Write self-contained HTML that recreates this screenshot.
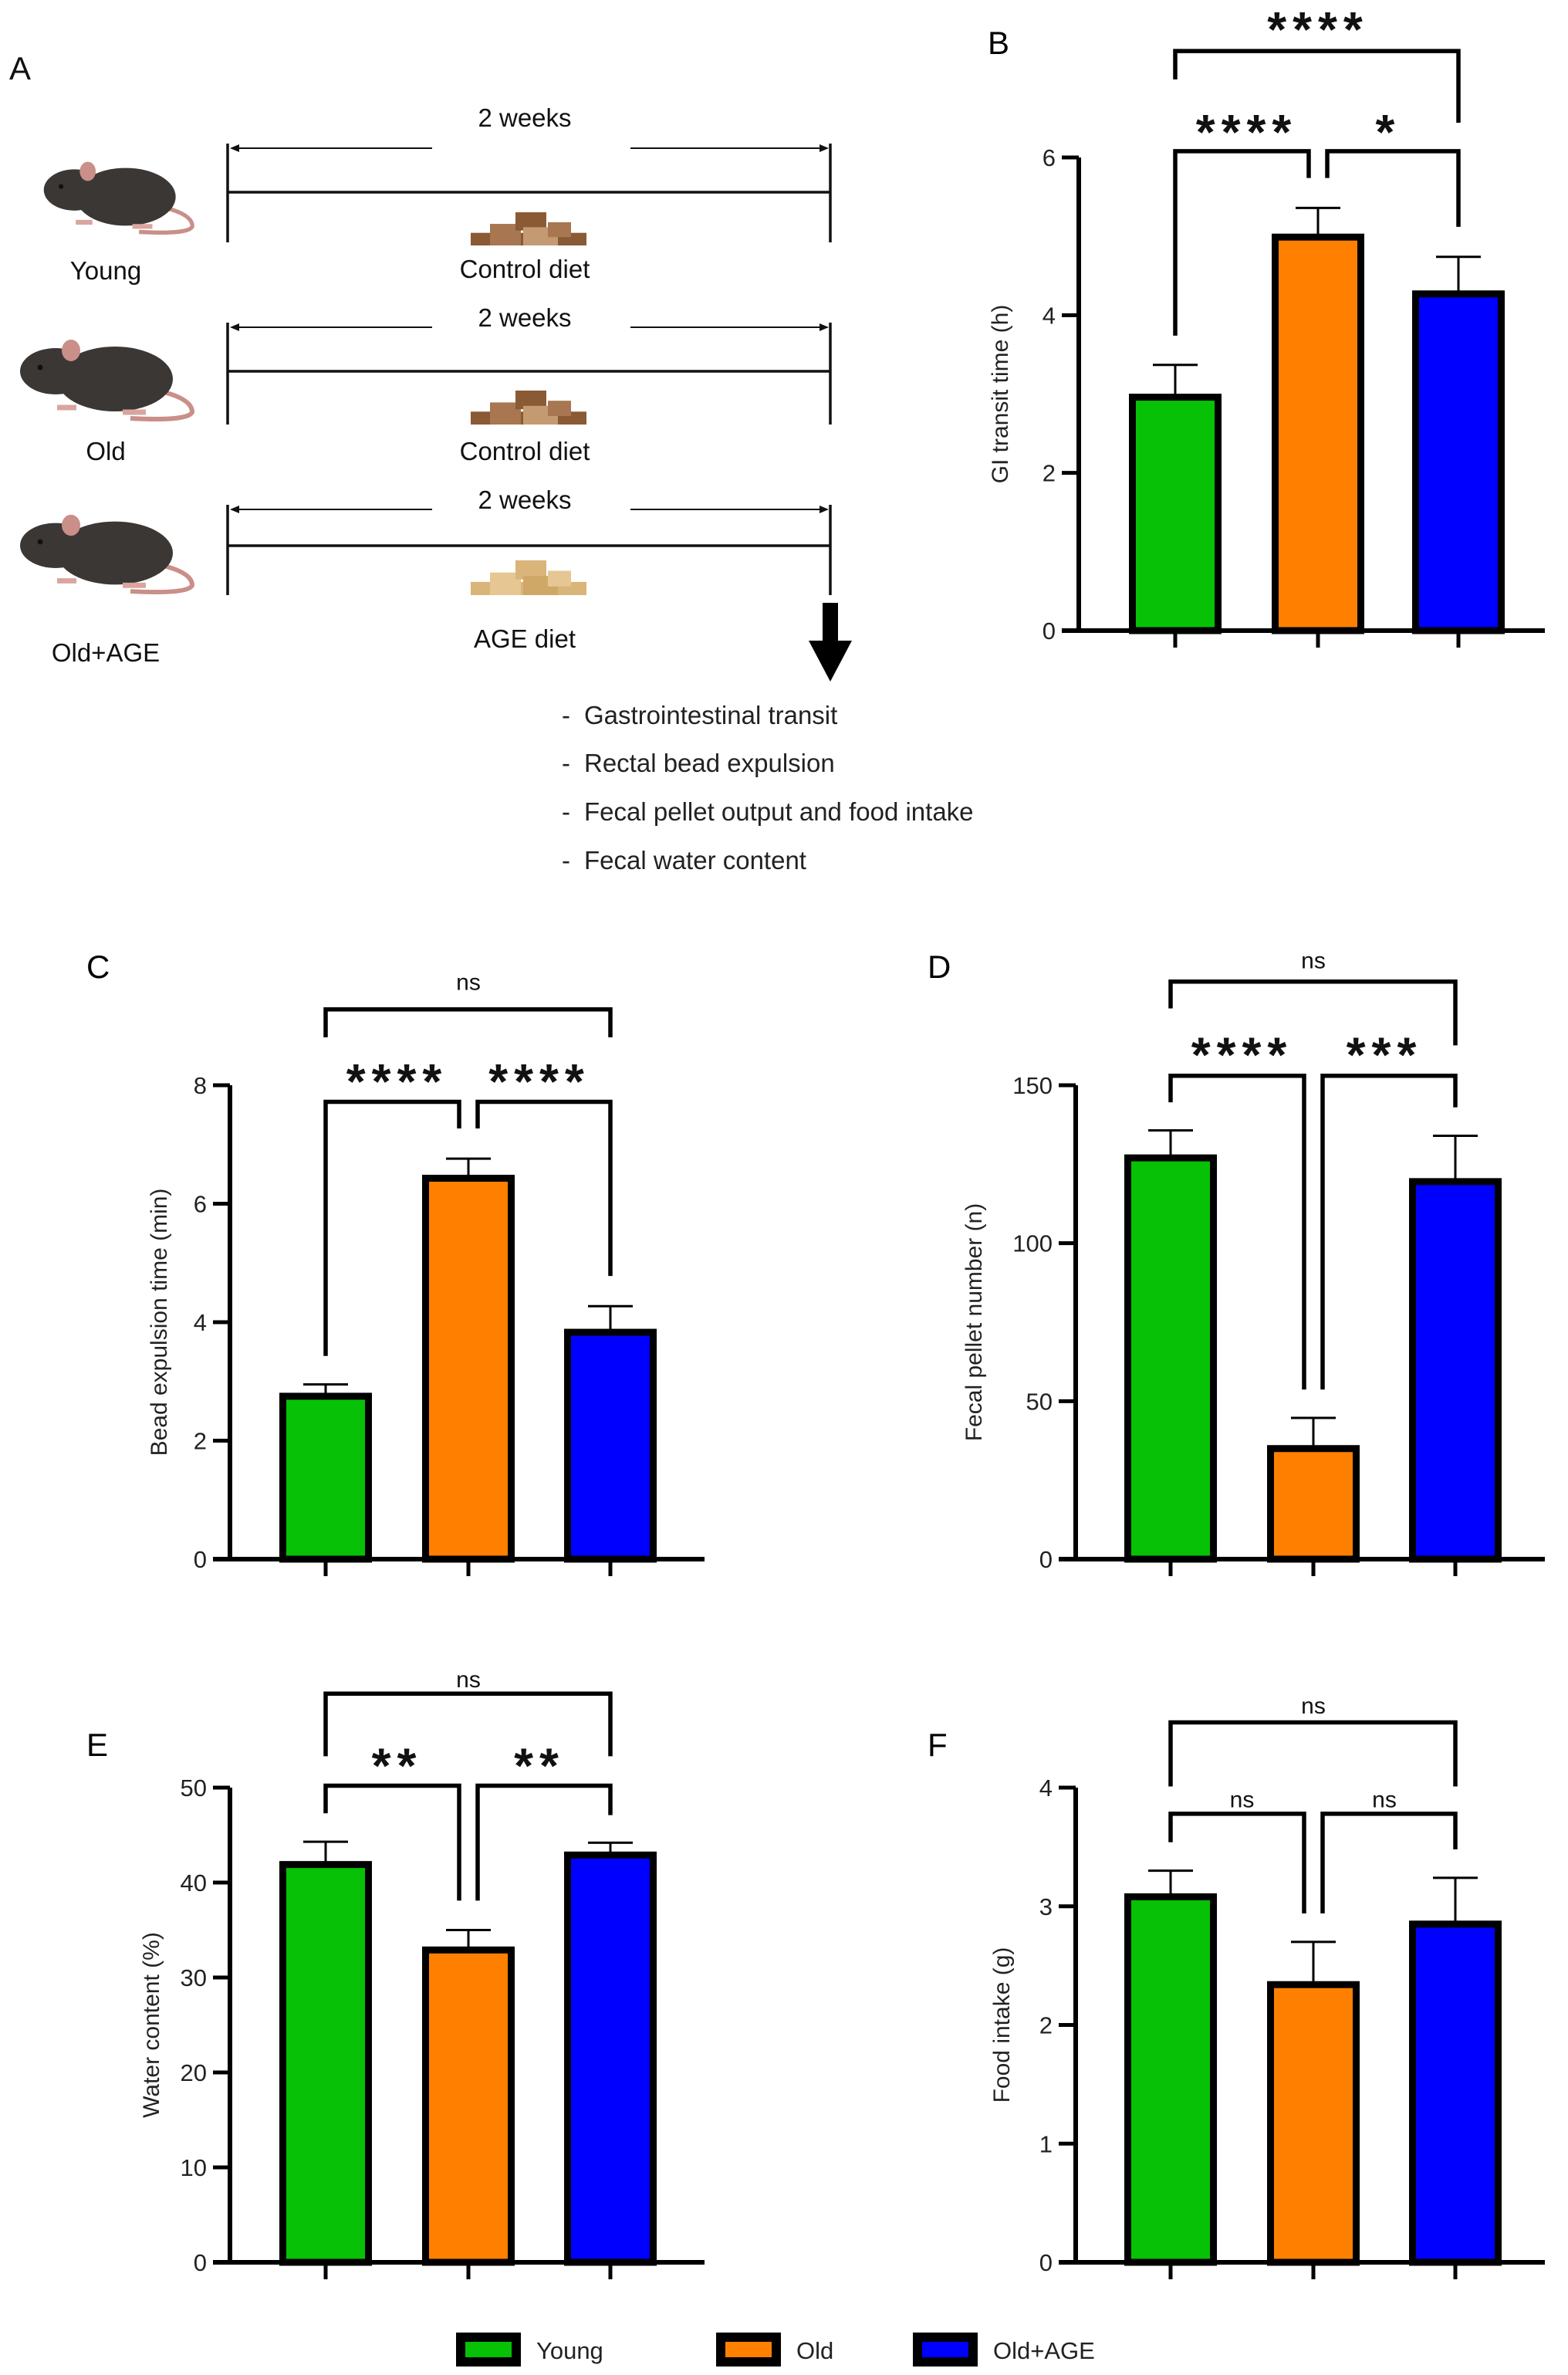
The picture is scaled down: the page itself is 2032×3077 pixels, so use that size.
<!DOCTYPE html>
<html><head><meta charset="utf-8">
<style>
html,body{margin:0;padding:0;background:#fff;}
svg{display:block;font-family:"Liberation Sans",Arial,sans-serif;}
</style></head>
<body>
<svg id="fig" width="2032" height="3077" viewBox="0 0 2032 3077" xmlns="http://www.w3.org/2000/svg">
<rect width="2032" height="3077" fill="#fff"/>
<g id="panelA" font-size="33" fill="#111">
  <text x="12" y="103" font-size="42">A</text>
</g>
<text x="1280" y="70" font-size="42">B</text>
<text x="112" y="1267" font-size="42">C</text>
<text x="1202" y="1267" font-size="42">D</text>
<text x="112" y="2275" font-size="42">E</text>
<text x="1202" y="2275" font-size="42">F</text>
<g id="charts"></g>
<g id="legend"></g>
</svg>
<script>
// ---- Chart data ----
const categories = ["Young", "Old", "Old+AGE"];
const barColors = ["#06c106", "#ff8000", "#0000ff"];

const bMeans = [2.96, 4.99, 4.27];
const bErrors = [0.41, 0.37, 0.47];
const bTicks = [0, 2, 4, 6];

const cMeans = [2.75, 6.43, 3.83];
const cErrors = [0.2, 0.33, 0.44];
const cTicks = [0, 2, 4, 6, 8];

const dMeans = [127, 35, 119.5];
const dErrors = [8.7, 9.7, 14.5];
const dTicks = [0, 50, 100, 150];

const eMeans = [41.9, 32.9, 42.9];
const eErrors = [2.4, 2.1, 1.3];
const eTicks = [0, 10, 20, 30, 40, 50];

const fMeans = [3.08, 2.34, 2.85];
const fErrors = [0.22, 0.36, 0.39];
const fTicks = [0, 1, 2, 3, 4];

// significance labels: [left bracket, right bracket, top bracket]
const bSig = ["****", "*", "****"];
const cSig = ["****", "****", "ns"];
const dSig = ["****", "***", "ns"];
const eSig = ["**", "**", "ns"];
const fSig = ["ns", "ns", "ns"];

// bracket levels in data units: [lowY, leftLegEnd, midLegEnd, rightLegEnd, topY, topLeftLeg, topRightLeg, topLabelY, lowLabelY]
const bBr = [6.08, 3.74, 5.74, 5.12, 7.35, 6.99, 6.44, 7.74, 6.44];
const cBr = [7.72, 3.43, 7.27, 4.78, 9.28, 8.81, 8.81, 9.74, 8.22];
const dBr = [153, 144.6, 53.7, 143, 182.8, 174.3, 162.6, 189.5, 162.6];
const eBr = [50.2, 47.3, 38.1, 47.1, 59.9, 53.3, 53.3, 61.4, 53.3];
const fBr = [3.78, 3.54, 2.94, 3.48, 4.55, 4.01, 4.01, 4.69, 3.90];

const NS = "http://www.w3.org/2000/svg";
function mk(tag, attrs, parent){
  const e = document.createElementNS(NS, tag);
  for (const k in attrs) e.setAttribute(k, attrs[k]);
  if (parent) parent.appendChild(e);
  return e;
}

function panel(id, ax, y0, yTop, maxV, xEnd, centers, titleX, title, means, errs, ticks, sig, br){
  const root = document.getElementById('charts');
  const g = mk('g', {}, root);
  
  
  const Y = v => y0 - (v / maxV) * (y0 - yTop);
  const spacing = centers[1] - centers[0];
  const bw = spacing * 0.6;
  means.forEach((m, i) => {
    const r = mk('rect', {x: centers[i] - bw/2, y: Y(m), width: bw, height: y0 - Y(m), fill: barColors[i], stroke: '#000', 'stroke-width': 9}, g);
    
    
    const eb = mk('path', {d: `M${centers[i]} ${Y(m)} V${Y(m + errs[i])} M${centers[i] - 29} ${Y(m + errs[i])} H${centers[i] + 29}`, stroke: '#000', 'stroke-width': 3, fill: 'none'}, g);
    
    
  });
  const yAxis = mk('path', {d: `M${ax} ${yTop} V${y0 + 3}`, stroke: '#000', 'stroke-width': 6, fill: 'none'}, g);
  
  
  const xAxis = mk('path', {d: `M${ax - 22} ${y0} H${xEnd}`, stroke: '#000', 'stroke-width': 6, fill: 'none'}, g);
  
  
  centers.forEach(c => {
    const t = mk('path', {d: `M${c} ${y0} V${y0 + 22}`, stroke: '#000', 'stroke-width': 5}, g);
    
    
  });
  ticks.forEach(v => {
    const y = Y(v);
    if (v !== 0) {
      const t = mk('path', {d: `M${ax - 22} ${y} H${ax}`, stroke: '#000', 'stroke-width': 5}, g);
      
      
    }
    const tl = mk('text', {x: ax - 30, y: y + 11, 'text-anchor': 'end', 'font-size': 31, fill: '#222'}, g);
    tl.textContent = v;
    
    
  });
  const yt = mk('text', {x: 0, y: 0, transform: `translate(${titleX},${(y0 + yTop)/2}) rotate(-90)`, 'text-anchor': 'middle', 'font-size': 30, fill: '#222'}, g);
  yt.textContent = title;
  
  
  const c0 = centers[0], c1 = centers[1], c2 = centers[2];
  const bs = {stroke: '#000', 'stroke-width': 5.5, fill: 'none'};
  const b1 = mk('path', Object.assign({d: `M${c0} ${Y(br[1])} V${Y(br[0])} H${c1 - 12} V${Y(br[2])}`}, bs), g);
  
  
  const b2 = mk('path', Object.assign({d: `M${c1 + 12} ${Y(br[2])} V${Y(br[0])} H${c2} V${Y(br[3])}`}, bs), g);
  
  
  const b3 = mk('path', Object.assign({d: `M${c0} ${Y(br[5])} V${Y(br[4])} H${c2} V${Y(br[6])}`}, bs), g);
  
  
  const labels = [[(c0 + c1)/2, Y(br[8]), sig[0]], [(c1 + c2)/2, Y(br[8]), sig[1]], [c1, Y(br[7]), sig[2]]];
  labels.forEach(L => {
    const isNs = L[2] === 'ns';
    const t = mk('text', {x: L[0], y: isNs ? L[1] + 10 : L[1] + 34, 'text-anchor': 'middle', 'font-size': isNs ? 30 : 64, 'font-weight': isNs ? 'normal' : 'bold', 'letter-spacing': isNs ? 0 : 8, fill: '#111'}, g);
    t.textContent = L[2];
    
    
  });
}

panel('panel-b', 1398, 817, 204, 6, 2002, [1523, 1708, 1890], 1306, 'GI transit time (h)', bMeans, bErrors, bTicks, bSig, bBr);
panel('panel-c', 298, 2020, 1406, 8, 913, [422, 607, 791], 216, 'Bead expulsion time (min)', cMeans, cErrors, cTicks, cSig, cBr);
panel('panel-d', 1394, 2020, 1406, 150, 2002, [1517, 1702, 1886], 1272, 'Fecal pellet number (n)', dMeans, dErrors, dTicks, dSig, dBr);
panel('panel-e', 298, 2931, 2316, 50, 913, [422, 607, 791], 206, 'Water content (%)', eMeans, eErrors, eTicks, eSig, eBr);
panel('panel-f', 1394, 2931, 2316, 4, 2002, [1517, 1702, 1886], 1308, 'Food intake (g)', fMeans, fErrors, fTicks, fSig, fBr);

// legend
const legX = [591, 928, 1183];
const legend = document.getElementById('legend');
categories.forEach((c, i) => {
  const g = mk('g', {}, legend);
  
  
  mk('rect', {x: legX[i], y: 3022, width: 84, height: 44, fill: '#000'}, g);
  mk('rect', {x: legX[i] + 12, y: 3034, width: 60, height: 20, fill: barColors[i]}, g);
  const t = mk('text', {x: legX[i] + 104, y: 3056, 'font-size': 31, fill: '#222'}, g);
  t.textContent = c;
});

// Panel A schematic
const A = document.getElementById('panelA');
const rows = [
  {arrowY: 192, lineY: 249, vTop: 186, vBot: 314, weeksY: 153, foodY: 275, foodH: 43, dietY: 349, diet: 'Control diet', group: 'Young', groupY: 351, mx: 55, my: 206, mw: 196, mh: 98, food: ['#8a5a35','#a87650','#c49a72']},
  {arrowY: 424, lineY: 481, vTop: 418, vBot: 550, weeksY: 412, foodY: 506, foodH: 44, dietY: 585, diet: 'Control diet', group: 'Old', groupY: 585, mx: 24, my: 436, mw: 227, mh: 110, food: ['#8a5a35','#a87650','#c49a72']},
  {arrowY: 660, lineY: 707, vTop: 654, vBot: 771, weeksY: 648, foodY: 726, foodH: 45, dietY: 828, diet: 'AGE diet', group: 'Old+AGE', groupY: 846, mx: 24, my: 663, mw: 227, mh: 107, food: ['#d9b57a','#e6c793','#cfa868']}
];
rows.forEach(r => {
  const g = mk('g', {}, A);
  
  
  mk('path', {d: `M295 ${r.vTop} V${r.vBot} M1076 ${r.vTop} V${r.vBot} M295 ${r.lineY} H1076`, stroke: '#111', 'stroke-width': 3.5, fill: 'none'}, g);
  mk('path', {d: `M300 ${r.arrowY} H560 M817 ${r.arrowY} H1072`, stroke: '#111', 'stroke-width': 2}, g);
  mk('path', {d: `M298 ${r.arrowY} l12 -5 v10 z M1074 ${r.arrowY} l-12 -5 v10 z`, fill: '#111'}, g);
  const w = mk('text', {x: 680, y: r.weeksY + 11, 'text-anchor': 'middle'}, g);
  w.textContent = '2 weeks';
  const d = mk('text', {x: 680, y: r.dietY + 11, 'text-anchor': 'middle'}, g);
  d.textContent = r.diet;
  const gr = mk('text', {x: 137, y: r.groupY + 11, 'text-anchor': 'middle'}, g);
  gr.textContent = r.group;
  // food pile
  const fx = 610, fy = r.foodY, h = r.foodH;
  mk('rect', {x: fx, y: fy + h*0.62, width: 150, height: h*0.38, fill: r.food[0]}, g);
  mk('rect', {x: fx + 25, y: fy + h*0.35, width: 40, height: h*0.65, fill: r.food[1]}, g);
  mk('rect', {x: fx + 58, y: fy, width: 40, height: h*0.55, fill: r.food[0]}, g);
  mk('rect', {x: fx + 68, y: fy + h*0.45, width: 45, height: h*0.55, fill: r.food[2]}, g);
  mk('rect', {x: fx + 100, y: fy + h*0.3, width: 30, height: h*0.45, fill: r.food[1]}, g);
  // mouse
  const sx = r.mw / 227, sy = r.mh / 110;
  const m = mk('g', {transform: `translate(${r.mx},${r.my}) scale(${sx},${sy})`}, g);
  
  
  mk('path', {d: 'M180 70 q45 10 45 28 q-5 12 -80 8', stroke: '#c98f88', 'stroke-width': 6, fill: 'none'}, m);
  mk('ellipse', {cx: 125, cy: 55, rx: 75, ry: 42, fill: '#3b3735'}, m);
  mk('ellipse', {cx: 48, cy: 45, rx: 46, ry: 30, fill: '#3b3735'}, m);
  mk('ellipse', {cx: 68, cy: 18, rx: 12, ry: 14, fill: '#c98f88'}, m);
  mk('circle', {cx: 28, cy: 40, r: 3.5, fill: '#111'}, m);
  mk('path', {d: 'M50 92 h25 M135 98 h30', stroke: '#d9a59e', 'stroke-width': 7}, m);
});
const arr = mk('path', {d: 'M1066 781 H1086 V830 H1104 L1076 883 L1048 830 H1066 Z', fill: '#000'}, A);


const items = ['Gastrointestinal transit', 'Rectal bead expulsion', 'Fecal pellet output and food intake', 'Fecal water content'];
const itemY = [927, 989, 1052, 1115];
items.forEach((s, i) => {
  const dsh = mk('text', {x: 728, y: itemY[i] + 11, 'font-size': 33, fill: '#222'}, A);
  dsh.textContent = '-';
  
  
  const t = mk('text', {x: 757, y: itemY[i] + 11, 'font-size': 33, fill: '#222'}, A);
  t.textContent = s;
  
  
});
</script>
</body></html>
